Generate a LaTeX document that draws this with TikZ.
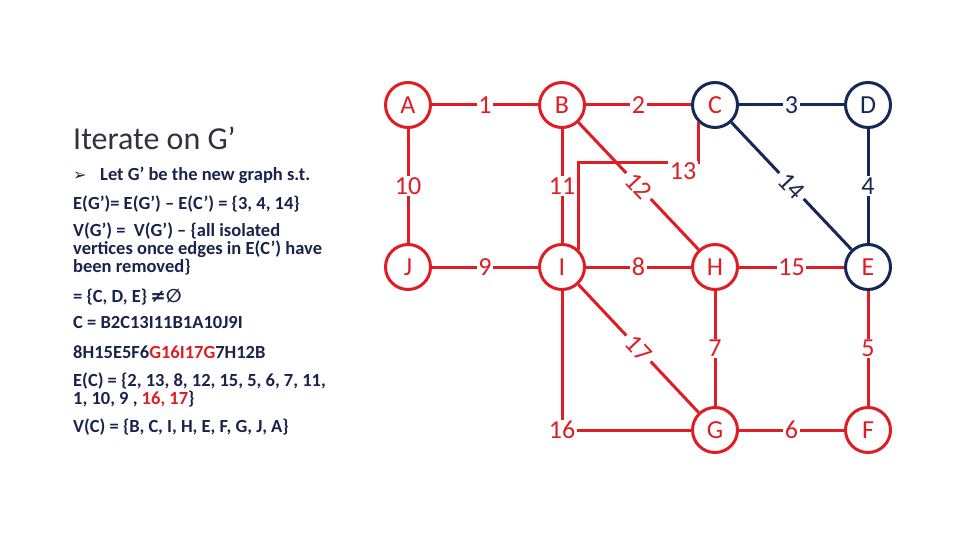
\documentclass[tikz,border=0pt]{standalone}
\usepackage{fontspec}
\setmainfont{Carlito}
\newfontfamily\symfont{DejaVu Sans}
\usetikzlibrary{positioning,calc}
\definecolor{gred}{RGB}{222,30,36}
\definecolor{gnavy}{RGB}{22,40,88}
\definecolor{txtnavy}{RGB}{25,35,75}
\definecolor{ttlgray}{RGB}{50,50,62}

\begin{document}
\begin{tikzpicture}[x=1pt, y=-1pt,
  vertex/.style={circle, draw=gred, text=gred, line width=3pt, minimum size=45pt, inner sep=0pt, font=\fontsize{26}{30}\selectfont},
  navyvertex/.style={vertex, draw=gnavy},
  wt/.style={fill=white, inner sep=1.5pt, font=\fontsize{26}{30}\selectfont},
  slopedwt/.style={wt, sloped, inner xsep=4.5pt},
  redge/.style={draw=gred, text=gred, line width=3pt},
  bedge/.style={draw=gnavy, text=gnavy, line width=3pt},
  txt/.style={anchor=base west, inner sep=0pt, text=txtnavy, font=\fontsize{18.5}{21}\selectfont\bfseries}]
  \useasboundingbox (0,0) rectangle (960,540);

  % vertices
  \node[vertex] (A) at (408,105) {A};
  \node[vertex] (B) at (562,105) {B};
  \node[navyvertex] (C) at (715,105) {C};
  \node[navyvertex, text=gnavy] (D) at (868,105) {D};
  \node[vertex] (J) at (408,267) {J};
  \node[vertex] (I) at (562,267) {I};
  \node[vertex] (H) at (715,267) {H};
  \node[navyvertex] (E) at (868,267) {E};
  \node[vertex] (G) at (715,430) {G};
  \node[vertex] (F) at (868,430) {F};

  % edge 13 goes round the corner
  \coordinate (t13) at ($(C.south west)+(0,41)$);
  \draw[redge] (I.north east) |- (t13) -- (C.south west);
  \node[wt, text=gred] (w13) at (683,171) {13};

  % edges
  \path (A) edge[redge] node[wt] {1} (B)
            edge[redge] node[wt] {10} (J)
        (B) edge[redge] node[wt] {2} (C)
            edge[redge] node[wt] {11} (I)
            edge[redge] node[slopedwt] {12} (H)
        (C) edge[bedge] node[wt] {3} (D)
            edge[bedge] node[slopedwt] {14} (E)
        (D) edge[bedge] node[wt] {4} (E)
        (J) edge[redge] node[wt] {9} (I)
        (I) edge[redge] node[wt] {8} (H)
            edge[redge] node[slopedwt] {17} (G)
        (H) edge[redge] node[wt] {15} (E)
            edge[redge] node[wt] {7} (G)
        (E) edge[redge] node[wt] {5} (F)
        (G) edge[redge] node[wt] {6} (F);
  \draw[redge] (I) |- node[wt, pos=0.5] (w16) {16} (G);

  % text on the left
  \node[anchor=base west, inner sep=0pt, text=ttlgray, font=\fontsize{32}{36}\selectfont] (title) at (73,150) {Iterate on G’};
  \node[txt, font=\fontsize{16}{19}\selectfont\symfont] (blt) at (73,181) {➢};
  \node[txt] (l1) at (100,181) {Let G’ be the new graph s.t.};
  \node[txt] (l2) at (73,209) {E(G’)= E(G’) – E(C’) = \{3, 4, 14\}};
  \node[txt] (l3) at (73,236) {V(G’) =\ \ V(G’) – \{all isolated};
  \node[txt] (l4) at (73,254) {vertices once edges in E(C’) have};
  \node[txt] (l5) at (73,272) {been removed\}};
  \node[txt] (l6) at (73,302) {= \{C, D, E\}{\symfont\,≠∅}};
  \node[txt] (l7) at (73,328) {C = B2C13I11B1A10J9I};
  \node[txt] (l8) at (73,358) {8H15E5F6{\color{gred}G16I17G}7H12B};
  \node[txt] (l9) at (73,386) {E(C) = \{2, 13, 8, 12, 15, 5, 6, 7, 11,};
  \node[txt] (l10) at (73,404) {1, 10, 9 , {\color{gred}16, 17}\}};
  \node[txt] (l11) at (73,432) {V(C) = \{B, C, I, H, E, F, G, J, A\}};
\end{tikzpicture}
\end{document}
